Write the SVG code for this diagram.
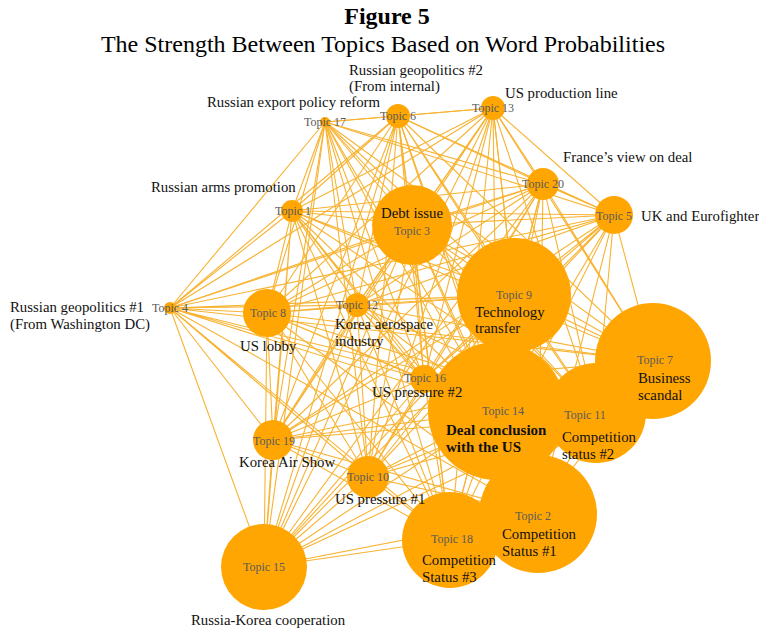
<svg xmlns="http://www.w3.org/2000/svg" width="759" height="629" viewBox="0 0 759 629">
<style>
.e{stroke:#F8B332;stroke-width:1.1;fill:none}
.n{fill:#FFA602}
.t{font-family:"Liberation Serif",serif;font-size:12px;fill:#5a5a5a;text-anchor:middle}
.l{font-family:"Liberation Serif",serif;font-size:14.8px;fill:#111}
.b{font-family:"Liberation Serif",serif;font-size:15px;fill:#111;font-weight:bold}
.h{font-family:"Liberation Serif",serif;font-size:24px;fill:#000;text-anchor:middle}
</style>
<rect width="759" height="629" fill="#fff"/>
<text class="h" x="387" y="24" font-weight="bold">Figure 5</text>
<text class="h" x="383" y="52">The Strength Between Topics Based on Word Probabilities</text>
<g id="connectors">
<path class="e" d="M292 211L538 514M292 211L412 225M292 211L170 308M292 211L614 215M292 211L398 116M292 211L653 361M292 211L267 313M292 211L514 295M292 211L368 477M292 211L596 413M292 211L357 305M292 211L493 108M292 211L497 411M292 211L264 567M292 211L424 379M292 211L325 122M292 211L450 540M292 211L273 440M292 211L543 184"/>
<path class="e" d="M538 514L412 225M538 514L170 308M538 514L614 215M538 514L398 116M538 514L653 361M538 514L267 313M538 514L514 295M538 514L368 477M538 514L596 413M538 514L357 305M538 514L493 108M538 514L497 411M538 514L264 567M538 514L424 379M538 514L325 122M538 514L450 540M538 514L273 440M538 514L543 184"/>
<path class="e" d="M412 225L170 308M412 225L614 215M412 225L398 116M412 225L653 361M412 225L267 313M412 225L514 295M412 225L368 477M412 225L596 413M412 225L357 305M412 225L493 108M412 225L497 411M412 225L264 567M412 225L424 379M412 225L325 122M412 225L450 540M412 225L273 440M412 225L543 184"/>
<path class="e" d="M170 308L614 215M170 308L398 116M170 308L653 361M170 308L267 313M170 308L514 295M170 308L368 477M170 308L596 413M170 308L357 305M170 308L493 108M170 308L497 411M170 308L264 567M170 308L424 379M170 308L325 122M170 308L450 540M170 308L273 440M170 308L543 184"/>
<path class="e" d="M614 215L398 116M614 215L653 361M614 215L267 313M614 215L514 295M614 215L368 477M614 215L596 413M614 215L357 305M614 215L493 108M614 215L497 411M614 215L264 567M614 215L424 379M614 215L325 122M614 215L450 540M614 215L273 440M614 215L543 184"/>
<path class="e" d="M398 116L653 361M398 116L267 313M398 116L514 295M398 116L368 477M398 116L596 413M398 116L357 305M398 116L493 108M398 116L497 411M398 116L264 567M398 116L424 379M398 116L325 122M398 116L450 540M398 116L273 440M398 116L543 184"/>
<path class="e" d="M653 361L267 313M653 361L514 295M653 361L368 477M653 361L596 413M653 361L357 305M653 361L493 108M653 361L497 411M653 361L264 567M653 361L424 379M653 361L325 122M653 361L450 540M653 361L273 440M653 361L543 184"/>
<path class="e" d="M267 313L514 295M267 313L368 477M267 313L596 413M267 313L357 305M267 313L493 108M267 313L497 411M267 313L264 567M267 313L424 379M267 313L325 122M267 313L450 540M267 313L273 440M267 313L543 184"/>
<path class="e" d="M514 295L368 477M514 295L596 413M514 295L357 305M514 295L493 108M514 295L497 411M514 295L264 567M514 295L424 379M514 295L325 122M514 295L450 540M514 295L273 440M514 295L543 184"/>
<path class="e" d="M368 477L596 413M368 477L357 305M368 477L493 108M368 477L497 411M368 477L264 567M368 477L424 379M368 477L325 122M368 477L450 540M368 477L273 440M368 477L543 184"/>
<path class="e" d="M596 413L357 305M596 413L493 108M596 413L497 411M596 413L264 567M596 413L424 379M596 413L325 122M596 413L450 540M596 413L273 440M596 413L543 184"/>
<path class="e" d="M357 305L493 108M357 305L497 411M357 305L264 567M357 305L424 379M357 305L325 122M357 305L450 540M357 305L273 440M357 305L543 184"/>
<path class="e" d="M493 108L497 411M493 108L264 567M493 108L424 379M493 108L325 122M493 108L450 540M493 108L273 440M493 108L543 184"/>
<path class="e" d="M497 411L264 567M497 411L424 379M497 411L325 122M497 411L450 540M497 411L273 440M497 411L543 184"/>
<path class="e" d="M264 567L424 379M264 567L325 122M264 567L450 540M264 567L273 440M264 567L543 184"/>
<path class="e" d="M424 379L325 122M424 379L450 540M424 379L273 440M424 379L543 184"/>
<path class="e" d="M325 122L450 540M325 122L273 440M325 122L543 184"/>
<path class="e" d="M450 540L273 440M450 540L543 184M273 440L543 184"/>
</g>
<g id="shapes">
<circle class="n" cx="292" cy="211" r="11"/>
<circle class="n" cx="538" cy="514" r="59"/>
<circle class="n" cx="412" cy="225" r="40"/>
<circle class="n" cx="170" cy="308" r="6"/>
<circle class="n" cx="614" cy="215" r="19"/>
<circle class="n" cx="398" cy="116" r="12"/>
<circle class="n" cx="653" cy="361" r="58"/>
<circle class="n" cx="267" cy="313" r="24"/>
<circle class="n" cx="514" cy="295" r="57"/>
<circle class="n" cx="368" cy="477" r="21"/>
<circle class="n" cx="596" cy="413" r="50"/>
<circle class="n" cx="357" cy="305" r="12"/>
<circle class="n" cx="493" cy="108" r="12"/>
<circle class="n" cx="497" cy="411" r="69"/>
<circle class="n" cx="264" cy="567" r="43"/>
<circle class="n" cx="424" cy="379" r="14"/>
<circle class="n" cx="325" cy="122" r="5"/>
<circle class="n" cx="450" cy="540" r="48"/>
<circle class="n" cx="273" cy="440" r="20"/>
<circle class="n" cx="543" cy="184" r="16"/>
</g>
<g id="topic1"><text class="t" x="293" y="215">Topic 1</text><text class="l" x="151" y="192">Russian arms promotion</text></g>
<g id="topic2"><text class="t" x="533" y="520">Topic 2</text><text class="l" x="502" y="539">Competition</text><text class="l" x="502" y="556">Status #1</text></g>
<g id="topic3"><text class="l" x="412" y="218" text-anchor="middle" font-size="15.5">Debt issue</text><text class="t" x="412" y="235">Topic 3</text></g>
<g id="topic4"><text class="t" x="170" y="312">Topic 4</text><text class="l" x="10" y="312">Russian geopolitics #1</text><text class="l" x="10" y="329">(From Washington DC)</text></g>
<g id="topic5"><text class="t" x="614" y="220">Topic 5</text><text class="l" x="641" y="221">UK and Eurofighter</text></g>
<g id="topic6"><text class="t" x="398" y="120">Topic 6</text><text class="l" x="349" y="75">Russian geopolitics #2</text><text class="l" x="349" y="91">(From internal)</text></g>
<g id="topic7"><text class="t" x="655" y="364">Topic 7</text><text class="l" x="638" y="383">Business</text><text class="l" x="638" y="400">scandal</text></g>
<g id="topic8"><text class="t" x="268" y="317">Topic 8</text><text class="l" x="240" y="351">US lobby</text></g>
<g id="topic9"><text class="t" x="514" y="299">Topic 9</text><text class="l" x="475" y="317">Technology</text><text class="l" x="475" y="333">transfer</text></g>
<g id="topic10"><text class="t" x="368" y="481">Topic 10</text><text class="l" x="335" y="504">US pressure #1</text></g>
<g id="topic11"><text class="t" x="585" y="419">Topic 11</text><text class="l" x="562" y="442">Competition</text><text class="l" x="562" y="459">status #2</text></g>
<g id="topic12"><text class="t" x="357" y="309">Topic 12</text><text class="l" x="335" y="329">Korea aerospace</text><text class="l" x="335" y="346">industry</text></g>
<g id="topic13"><text class="t" x="493" y="112">Topic 13</text><text class="l" x="505" y="98">US production line</text></g>
<g id="topic14"><text class="t" x="503" y="415">Topic 14</text><text class="b" x="446" y="435">Deal conclusion</text><text class="b" x="446" y="452">with the US</text></g>
<g id="topic15"><text class="t" x="264" y="571">Topic 15</text><text class="l" x="191" y="625">Russia-Korea cooperation</text></g>
<g id="topic16"><text class="t" x="425" y="382">Topic 16</text><text class="l" x="372" y="397">US pressure #2</text></g>
<g id="topic17"><text class="t" x="325" y="126">Topic 17</text><text class="l" x="207" y="107">Russian export policy reform</text></g>
<g id="topic18"><text class="t" x="452" y="543">Topic 18</text><text class="l" x="422" y="565">Competition</text><text class="l" x="422" y="582">Status #3</text></g>
<g id="topic19"><text class="t" x="274" y="445">Topic 19</text><text class="l" x="239" y="467">Korea Air Show</text></g>
<g id="topic20"><text class="t" x="543" y="188">Topic 20</text><text class="l" x="563" y="162">France’s view on deal</text></g>
</svg>
